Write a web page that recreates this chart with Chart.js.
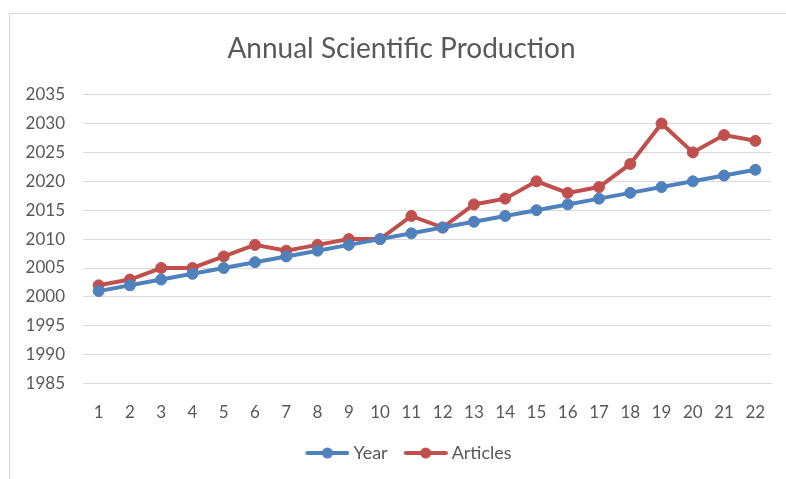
<!DOCTYPE html>
<html>
<head>
<meta charset="utf-8">
<script src="https://cdn.jsdelivr.net/npm/chart.js@4"></script>
<style>
  html, body { margin: 0; padding: 0; background: #fff; overflow: hidden; }
  #wrap { position: relative; width: 786px; height: 479px; }
  #frame { position: absolute; left: 9px; top: 13px; width: 800px; height: 500px;
           border: 1px solid #d9d9d9; pointer-events: none; }
</style>
</head>
<body>
<div id="wrap">
  <canvas id="container-chart" width="786" height="479"></canvas>
  <div id="frame"></div>
</div>
<script>
// datos
const categories = ['1','2','3','4','5','6','7','8','9','10','11','12','13','14','15','16','17','18','19','20','21','22'];
const yearData = [2001, 2002, 2003, 2004, 2005, 2006, 2007, 2008, 2009, 2010, 2011,
                  2012, 2013, 2014, 2015, 2016, 2017, 2018, 2019, 2020, 2021, 2022];
const articlesData = [2002, 2003, 2005, 2005, 2007, 2009, 2008, 2009, 2010, 2010, 2014,
                      2012, 2016, 2017, 2020, 2018, 2019, 2023, 2030, 2025, 2028, 2027];
const yTicks = [1985, 1990, 1995, 2000, 2005, 2010, 2015, 2020, 2025, 2030, 2035];

const blue = '#4f81bd';
const red = '#c0504d';
const textColor = '#595959';
const fontFamily = 'Lato, "Open Sans", sans-serif';

// icono de leyenda: linea con circulo (con espacio a la izquierda)
const iconBox = 53;
function legendIcon(color) {
  const c = document.createElement('canvas');
  c.width = 63; c.height = 14;
  const g = c.getContext('2d');
  g.strokeStyle = color;
  g.lineWidth = 4;
  g.lineCap = 'round';
  g.beginPath(); g.moveTo(21, 7); g.lineTo(61, 7); g.stroke();
  g.fillStyle = color;
  g.beginPath(); g.arc(41, 7, 5.5, 0, Math.PI * 2); g.fill();
  return c;
}

// el titulo y la leyenda de Excel estan centrados un poco mas a la derecha
const shiftBlocks = {
  id: 'shiftBlocks',
  afterLayout(chart) {
    const dx = 16;
    if (chart.titleBlock) { chart.titleBlock.left += dx; chart.titleBlock.right += dx; }
    if (chart.legend) { chart.legend.left += dx; chart.legend.right += dx; }
  }
};

const ctx = document.querySelector('#container-chart').getContext('2d');

const configChart = {
  type: 'line',
  data: {
    labels: categories,
    datasets: [
      {
        label: 'Year',
        data: yearData,
        borderColor: blue,
        backgroundColor: blue,
        borderWidth: 4,
        pointRadius: 5.5,
        pointBorderWidth: 1,
        pointStyle: 'circle',
        tension: 0
      },
      {
        label: 'Articles',
        data: articlesData,
        borderColor: red,
        backgroundColor: red,
        borderWidth: 4,
        pointRadius: 5.5,
        pointBorderWidth: 1,
        pointStyle: 'circle',
        tension: 0
      }
    ]
  },
  options: {
    responsive: false,
    animation: false,
    layout: { padding: { left: 0, right: 15, top: 0, bottom: 7 } },
    plugins: {
      title: {
        display: true,
        text: 'Annual Scientific Production',
        color: textColor,
        font: { family: fontFamily, size: 28, weight: 'normal' },
        padding: { top: 32, bottom: 29 }
      },
      legend: {
        position: 'bottom',
        labels: {
          color: textColor,
          font: { family: fontFamily, size: 18 },
          usePointStyle: true,
          pointStyleWidth: iconBox,
          padding: 2,
          generateLabels: function (chart) {
            return chart.data.datasets.map(function (ds, i) {
              return {
                text: ds.label,
                fontColor: textColor,
                pointStyle: legendIcon(ds.borderColor),
                datasetIndex: i,
                lineWidth: 0,
                strokeStyle: 'transparent',
                fillStyle: 'transparent'
              };
            });
          }
        }
      },
      tooltip: { enabled: false }
    },
    scales: {
      x: {
        offset: true,
        grid: { display: false, drawTicks: false },
        border: { display: true, color: '#d9d9d9', width: 1 },
        ticks: {
          color: textColor,
          font: { family: fontFamily, size: 17 },
          padding: 19,
          maxRotation: 0,
          autoSkip: false
        }
      },
      y: {
        min: 1985,
        max: 2035,
        afterBuildTicks: function (axis) {
          axis.ticks = yTicks.map(function (v) { return { value: v }; });
        },
        grid: { color: '#d9d9d9', lineWidth: 1, drawTicks: false },
        border: { display: false },
        ticks: {
          color: textColor,
          font: { family: fontFamily, size: 17 },
          padding: 18,
          callback: function (value) { return String(value); }
        },
        afterFit: function (axis) { axis.width = 83; }
      }
    }
  },
  plugins: [shiftBlocks]
};

const myChart = new Chart(ctx, configChart);
</script>
</body>
</html>
